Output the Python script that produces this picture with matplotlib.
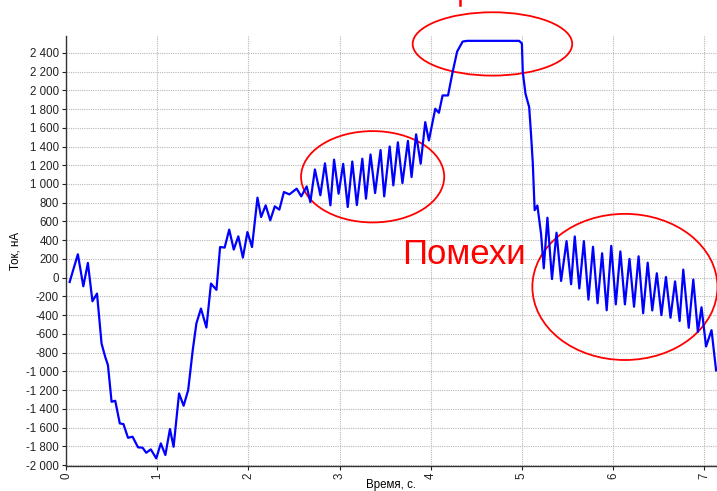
import matplotlib
matplotlib.use("Agg")
import matplotlib.pyplot as plt
from matplotlib.patches import Ellipse
from matplotlib.ticker import FuncFormatter, MultipleLocator

plt.rcParams['font.family'] = ['Liberation Sans', 'DejaVu Sans']

# time, s and current, nA
time_s = [0.04, 0.13, 0.19, 0.24, 0.29, 0.34, 0.39, 0.43, 0.46, 0.50,
          0.54, 0.59, 0.63, 0.68, 0.73, 0.79, 0.84, 0.88, 0.93, 0.99,
          1.04, 1.09, 1.14, 1.18, 1.24, 1.29, 1.34, 1.39, 1.43, 1.48,
          1.54, 1.59, 1.65, 1.69, 1.74, 1.79, 1.84, 1.89, 1.94, 1.99,
          2.04, 2.10, 2.14, 2.19, 2.24, 2.29, 2.34, 2.39, 2.45, 2.53,
          2.58, 2.64, 2.68, 2.73, 2.79, 2.84, 2.90, 2.94, 2.99, 3.04,
          3.09, 3.14, 3.19, 3.25, 3.29, 3.34, 3.39, 3.45, 3.49, 3.55,
          3.59, 3.64, 3.69, 3.75, 3.79, 3.84, 3.89, 3.94, 3.98, 4.05,
          4.09, 4.13, 4.19, 4.24, 4.29, 4.35, 4.40, 4.97, 5.00, 5.01,
          5.04, 5.08, 5.10, 5.12, 5.14, 5.17, 5.21, 5.24, 5.28, 5.33,
          5.38, 5.43, 5.49, 5.54, 5.58, 5.63, 5.68, 5.73, 5.78, 5.83,
          5.88, 5.93, 5.98, 6.03, 6.08, 6.13, 6.18, 6.23, 6.28, 6.33,
          6.38, 6.43, 6.48, 6.53, 6.58, 6.63, 6.68, 6.73, 6.77, 6.83,
          6.88, 6.93, 6.97, 7.02, 7.08, 7.13]
current_na = [-46, 250, -92, 157, -252, -170, -703, -845, -934, -1325,
              -1314, -1556, -1563, -1709, -1698, -1811, -1815, -1869, -1833, -1929,
              -1769, -1893, -1616, -1805, -1236, -1367, -1200, -774, -489, -330,
              -532, -63, -130, 327, 321, 513, 300, 441, 214, 487,
              327, 854, 647, 772, 612, 761, 726, 914, 889, 950,
              868, 974, 807, 1155, 880, 1220, 772, 1260, 896, 1215,
              754, 1240, 775, 1270, 843, 1315, 903, 1362, 868, 1400,
              985, 1445, 1010, 1460, 1074, 1530, 1216, 1660, 1465, 1803,
              1760, 1945, 1945, 2193, 2414, 2520, 2528, 2528, 2500, 2193,
              1962, 1820, 1536, 1216, 720, 770, 470, 100, 640, -15,
              480, -35, 390, -70, 440, -115, 390, -234, 330, -273,
              260, -348, 340, -285, 280, -285, 200, -310, 228, -380,
              160, -350, 47, -400, 7, -428, -40, -463, 86, -535,
              -20, -579, -316, -735, -560, -990]

y_ticks = list(range(-2000, 2401, 200))
x_ticks = [0, 1, 2, 3, 4, 5, 6, 7]

# ellipses: (centre t, centre value, width s, height nA)
ellipses = [(4.677, 2495, 1.75, 676),
            (3.363, 1077, 1.57, 975),
            (6.13, -99, 2.03, 1560)]

fig = plt.figure(figsize=(7.17, 4.91), dpi=100)
ax = fig.add_axes([66 / 717, 25.5 / 491, 651 / 717, 430 / 491])

ax.plot(time_s, current_na, color='#0000ff', linewidth=1.6)

ax.set_xlim(0, 7.14)
ax.set_ylim(-2005, 2585)
ax.set_xticks(x_ticks)
ax.set_yticks(y_ticks)
ax.yaxis.set_major_formatter(FuncFormatter(lambda v, p: f"{int(v):,}".replace(',', ' ')))
ax.tick_params(axis='both', labelsize=8.3, length=3, width=0.8, pad=2, colors='#222222')
for lbl in ax.get_xticklabels():
    lbl.set_rotation(90)

ax.grid(True, color='#b8b8b8', linestyle=(0, (1, 1)), linewidth=0.8)
ax.set_axisbelow(True)
for s in ['top', 'right']:
    ax.spines[s].set_visible(False)
for s in ['left', 'bottom']:
    ax.spines[s].set_color('#333333')
    ax.spines[s].set_linewidth(1.0)

ax.set_xlabel('Время, с.', fontsize=8.3)
ax.set_ylabel('Ток, нА', fontsize=8.3)
ax.xaxis.set_label_coords(0.5, -0.032)
ax.yaxis.set_label_coords(-0.068, 0.5)

for cx, cy, w, h in ellipses:
    ax.add_patch(Ellipse((cx, cy), w, h, fill=False, edgecolor='#ff0000',
                         linewidth=1.3, clip_on=False))

ax.text(3.69, 150, 'Помехи', color='#ff0000', fontsize=25,
        ha='left', va='baseline')

# cut-off red stroke at the top edge
fig.add_artist(plt.Line2D([460 / 717, 460 / 717], [1.0, 1 - 5 / 491],
                          color='#ff0000', linewidth=1.8))

fig.savefig('out.png', dpi=100)
